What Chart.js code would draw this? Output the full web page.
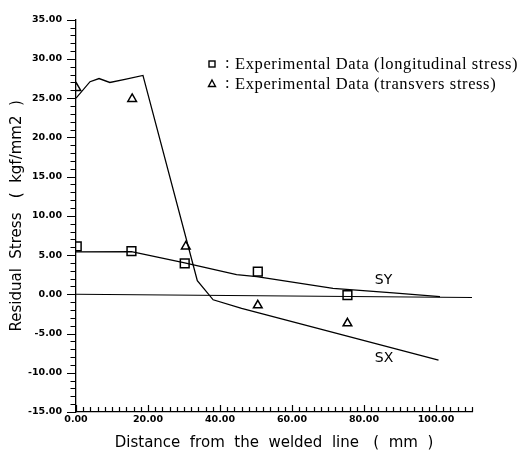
<!DOCTYPE html>
<html>
<head>
<meta charset="utf-8">
<script src="https://cdn.jsdelivr.net/npm/chart.js@4/dist/chart.umd.min.js"></script>
<style>
  html, body { margin: 0; padding: 0; background: #fff; }
  #wrap { width: 522px; height: 454px; }
</style>
</head>
<body>
<div id="wrap"><canvas id="stress"></canvas></div>
<script>
// calculated curves
var sxDist   = [0, 3.9, 6.4, 9.4, 13.6, 18.6, 33.7, 38.1, 46.0, 100.7];
var sxStress = [25.0, 27.1, 27.5, 27.0, 27.4, 27.9, 1.75, -0.7, -1.8, -8.4];
var syDist   = [0, 15.4, 30.2, 44.6, 50.2, 71.4, 88.1, 101.1];
var syStress = [5.4, 5.45, 4.0, 2.5, 2.25, 0.75, 0.17, -0.3];
var baseDist   = [0, 110];
var baseStress = [0, -0.4];

// experimental points
var longDist   = [0.2, 15.4, 30.2, 50.5, 75.4];
var longStress = [6.1, 5.5, 3.95, 2.9, -0.1];
var tranDist   = [0.1, 15.6, 30.5, 50.5, 75.4];
var tranStress = [26.3, 24.9, 6.1, -1.4, -3.7];

var xTicks = [0, 20, 40, 60, 80, 100];
var yTicks = [-15, -10, -5, 0, 5, 10, 15, 20, 25, 30, 35];

var legendLabels = ['Experimental Data (longitudinal stress)', 'Experimental Data (transvers stress)'];
var curveNames = ['SY', 'SX'];

function pts(xs, ys) {
  return xs.map(function (x, i) { return { x: x, y: ys[i] }; });
}

var minorTicks = {
  id: 'minorTicks',
  afterDraw: function (chart) {
    var ctx = chart.ctx, xs = chart.scales.x, ys = chart.scales.y;
    ctx.save();
    ctx.strokeStyle = '#000';
    ctx.lineWidth = 1.2;
    ctx.beginPath();
    for (var v = -15; v <= 35; v++) {
      var py = Math.round(ys.getPixelForValue(v)) + 0.5;
      var len = (v % 5 === 0) ? 9 : 5.5;
      ctx.moveTo(xs.left - len, py);
      ctx.lineTo(xs.left, py);
    }
    for (var u = 0; u <= 110; u += 2) {
      var px = Math.round(xs.getPixelForValue(u)) + 0.5;
      var l2 = (u % 20 === 0) ? 7 : 5;
      ctx.moveTo(px, ys.bottom);
      ctx.lineTo(px, ys.bottom - l2);
    }
    ctx.stroke();
    ctx.restore();
  }
};

var notes = {
  id: 'notes',
  afterDraw: function (chart) {
    var ctx = chart.ctx, xs = chart.scales.x, ys = chart.scales.y;
    ctx.save();
    ctx.fillStyle = '#000';
    ctx.strokeStyle = '#000';
    ctx.lineWidth = 1.4;
    // legend
    ctx.strokeRect(209, 61, 6, 6);
    ctx.beginPath();
    ctx.moveTo(212, 80); ctx.lineTo(215.5, 86.5); ctx.lineTo(208.5, 86.5); ctx.closePath();
    ctx.stroke();
    ctx.font = '16.5px "Liberation Serif"';
    ctx.letterSpacing = '0.6px';
    ctx.textBaseline = 'middle';
    ctx.textAlign = 'left';
    ctx.fillText(':', 225, 64);
    ctx.fillText(':', 225, 84);
    ctx.fillText(legendLabels[0], 235, 65);
    ctx.fillText(legendLabels[1], 235, 85);
    // curve names
    ctx.letterSpacing = '0px';
    ctx.font = '14px "DejaVu Sans"';
    ctx.fillText(curveNames[0], xs.getPixelForValue(83), ys.getPixelForValue(1.8));
    ctx.fillText(curveNames[1], xs.getPixelForValue(83), ys.getPixelForValue(-8.1));
    ctx.restore();
  }
};

var tickFont = { family: 'DejaVu Sans', size: 9.5, weight: 'bold' };
var titleFont = { family: 'DejaVu Sans', size: 15 };

new Chart(document.getElementById('stress'), {
  type: 'scatter',
  data: {
    datasets: [
      { label: 'SX', data: pts(sxDist, sxStress), showLine: true, pointRadius: 0,
        borderColor: '#000', borderWidth: 1.3, fill: false },
      { label: 'SY', data: pts(syDist, syStress), showLine: true, pointRadius: 0,
        borderColor: '#000', borderWidth: 1.3, fill: false },
      { label: 'base', data: pts(baseDist, baseStress), showLine: true, pointRadius: 0,
        borderColor: '#000', borderWidth: 1.1, fill: false },
      { label: 'longitudinal', data: pts(longDist, longStress), pointStyle: 'rect',
        pointRadius: 6.2, backgroundColor: 'rgba(255,255,255,0)', borderColor: '#000', borderWidth: 1.5 },
      { label: 'transverse', data: pts(tranDist, tranStress), pointStyle: 'triangle',
        pointRadius: 5, backgroundColor: 'rgba(255,255,255,0)', borderColor: '#000', borderWidth: 1.5 }
    ]
  },
  options: {
    responsive: true,
    maintainAspectRatio: false,
    animation: false,
    layout: { padding: { top: 13, right: 50, left: 0, bottom: 0 } },
    plugins: { legend: { display: false }, tooltip: { enabled: false } },
    scales: {
      x: {
        type: 'linear', min: 0, max: 110,
        afterBuildTicks: function (s) { s.ticks = xTicks.map(function (v) { return { value: v }; }); },
        afterFit: function (s) { s.height = 42; },
        grid: { display: false, drawTicks: false },
        border: { display: true, color: '#000', width: 1.3 },
        ticks: { color: '#000', font: tickFont, padding: 2, maxRotation: 0,
          callback: function (v) { return v.toFixed(2); } },
        title: { display: true, text: 'Distance  from  the  welded  line   (  mm  )',
          color: '#000', font: titleFont, padding: { top: 0, bottom: 2 } }
      },
      y: {
        min: -15, max: 35,
        afterBuildTicks: function (s) { s.ticks = yTicks.map(function (v) { return { value: v }; }); },
        afterFit: function (s) { s.width = 76; },
        grid: { display: false, drawTicks: false },
        border: { display: true, color: '#000', width: 1.3 },
        ticks: { color: '#000', font: tickFont, padding: 14,
          callback: function (v) { return v.toFixed(2); } },
        title: { display: true, text: 'Residual  Stress   (  kgf/mm2  )',
          color: '#000', font: titleFont, padding: { top: 8, bottom: 0 } }
      }
    }
  },
  plugins: [minorTicks, notes]
});
</script>
</body>
</html>
